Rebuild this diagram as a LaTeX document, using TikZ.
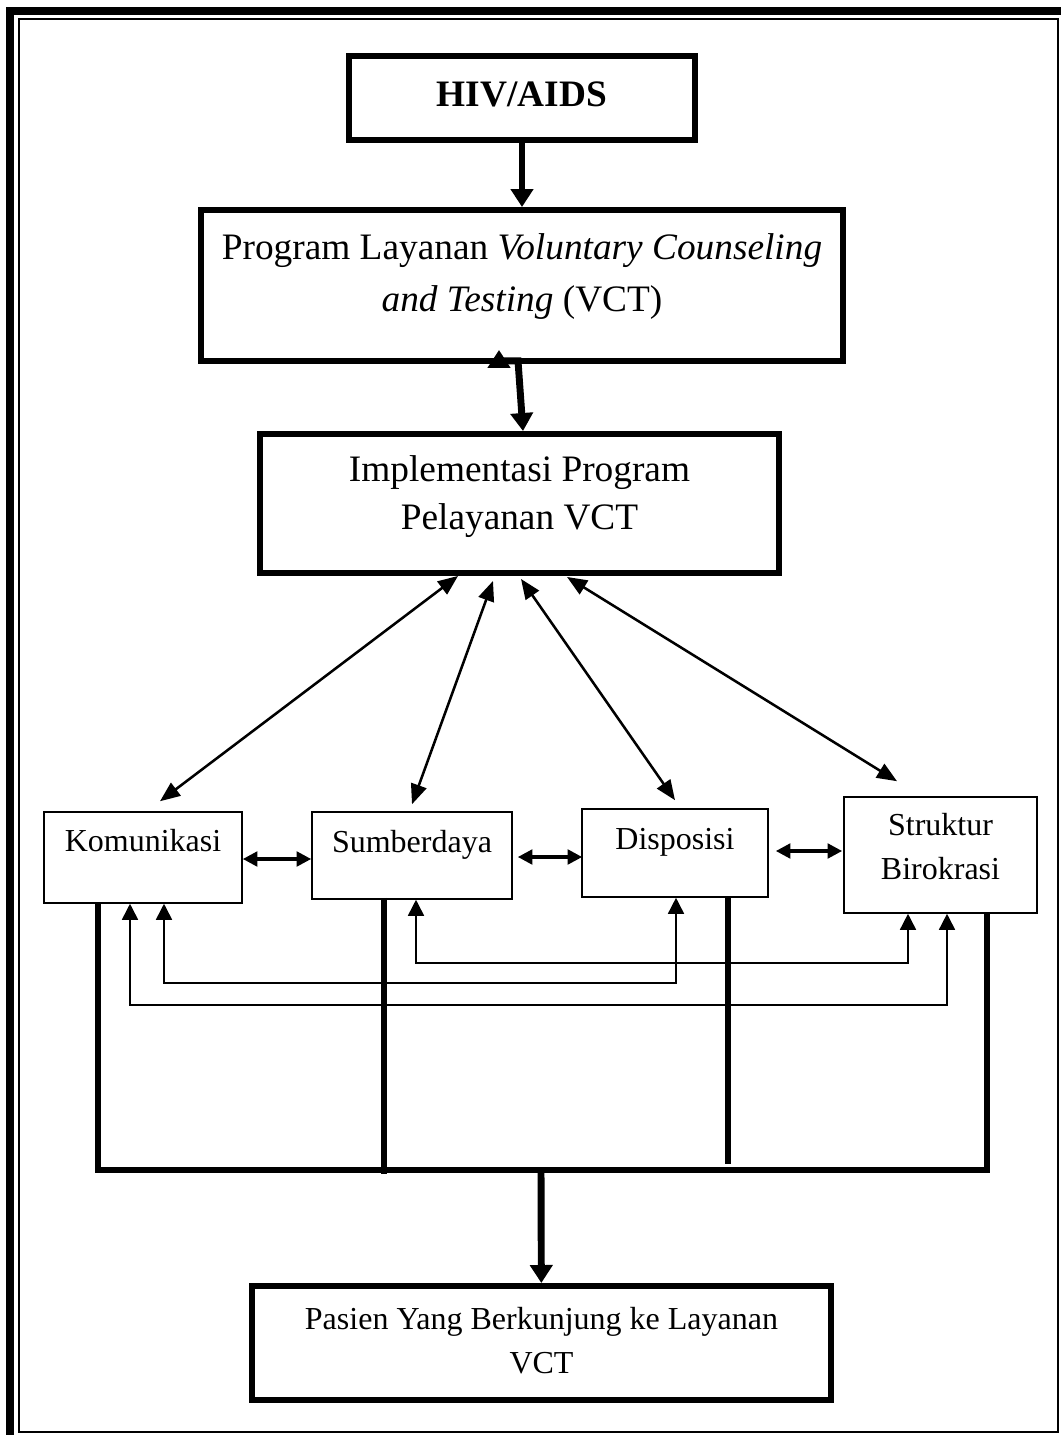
\documentclass[tikz,border=0pt]{standalone}
\usepackage{fontspec}
\setmainfont{Liberation Serif}
\usetikzlibrary{arrows.meta,calc}

\begin{document}
\begin{tikzpicture}[x=0.375pt, y=-0.375pt,
    bigbox/.style={draw, line width=2.25pt, inner sep=0pt},
    smallbox/.style={draw, line width=0.6pt, inner sep=0pt},
    bigtext/.style={font=\fontsize{14pt}{19.5pt}\selectfont, align=center, inner sep=0pt},
    smalltext/.style={font=\fontsize{12pt}{16.5pt}\selectfont, align=center, inner sep=0pt},
    mainarrow/.style={->, >={Triangle[length=6.75pt, width=8.25pt]}, line width=2.6pt},
    diagarrow/.style={<->, >={Triangle[length=7.5pt, width=6pt]}, line width=0.95pt},
    sidearrow/.style={<->, >={Triangle[length=5.5pt, width=5.5pt]}, line width=1.25pt},
    fbline/.style={<->, >={Triangle[length=6pt, width=6pt]}, line width=0.6pt},
    busline/.style={line width=2.25pt, line join=miter}]
    \useasboundingbox (0,0) rectangle (1061,1435);
    % page frame
    \draw[line width=3pt] (10,1435) -- (10,11) -- (1061,11);
    \draw[line width=1pt] (19,19) rectangle (1058,1432);

    % top column
    \node[bigbox, minimum width=129.75pt, minimum height=31.5pt] (hiv) at (522,98) {};
    \node[bigtext, font=\fontsize{14pt}{19.5pt}\selectfont\bfseries] (hivtext) at (522,94) {HIV/AIDS};
    \node[bigbox, minimum width=240.75pt, minimum height=56.6pt] (vct) at (522,285.5) {};
    \node[bigtext] (vcttext) at (522,277) {Program Layanan \textit{Voluntary Counseling}\\ \textit{and Testing} (VCT)};
    \node[bigbox, minimum width=194.6pt, minimum height=52.1pt] (impl) at (519.5,503.5) {};
    \node[bigtext, font=\fontsize{14pt}{18pt}\selectfont] (impltext) at (519.5,497) {Implementasi Program\\ Pelayanan VCT};

    % factors
    \node[smallbox, minimum width=74.25pt, minimum height=34.1pt] (kom) at (143,857.5) {};
    \node[smalltext] (komtext) at (143,841) {Komunikasi};
    \node[smallbox, minimum width=75pt, minimum height=32.6pt] (sum) at (412,855.5) {};
    \node[smalltext] (sumtext) at (412,845) {Sumberdaya};
    \node[smallbox, minimum width=69.75pt, minimum height=33pt] (dis) at (675,853) {};
    \node[smalltext] (distext) at (675,842) {Disposisi};
    \node[smallbox, minimum width=72.4pt, minimum height=43.5pt] (str) at (940.5,855) {};
    \node[smalltext] (strtext) at (940.5,847) {Struktur\\ Birokrasi};

    \node[bigbox, minimum width=217.1pt, minimum height=42.75pt] (pas) at (541.5,1343) {};
    \node[smalltext] (pastext) at (541.5,1341) {Pasien Yang Berkunjung ke Layanan\\ VCT};

    \draw[mainarrow] (hiv) -- (vct);
    \draw[mainarrow, <->] ($(vct.south)+(-23,-14)$) -- ($(vct.south)+(-23,-3)$) -- ($(vct.south)+(-4,-3)$) -- ($(impl.north)+(3.5,0)$);

    \draw[diagarrow] ($(impl.south)+(-61.5,0)$) -- ($(kom.north)+(17,-10)$);
    \draw[diagarrow] ($(impl.south)+(-26.5,5)$) -- ($(sum.north)+(0,-7)$);
    \draw[diagarrow] ($(impl.south)+(1.5,3)$) -- ($(dis.north)+(0,-8)$);
    \draw[diagarrow] ($(impl.south)+(47.5,1)$) -- ($(str.north)+(-43.5,-15)$);

    \draw[sidearrow] ($(kom.east)+(0,1.5)$) -- ($(sum.west)+(0,3.5)$);
    \draw[sidearrow] ($(sum.east)+(5,1.5)$) -- ($(dis.west)+(1,4)$);
    \draw[sidearrow] ($(dis.east)+(7,-2)$) -- ($(str.west)+(-1,-4)$);

    % feedback lines
    \draw[fbline] ($(sum.south)+(4,0)$) |- ($(str.south)+(-32.5,49)$) -- ($(str.south)+(-32.5,0)$);
    \draw[fbline] ($(kom.south)+(21,0)$) |- ($(dis.south)+(1,85)$) -- ($(dis.south)+(1,0)$);
    \draw[fbline] ($(kom.south)+(-13,0)$) |- ($(str.south)+(6.5,91)$) -- ($(str.south)+(6.5,0)$);

    % bus to the patient box
    \coordinate (busL) at (98,1170);
    \coordinate (busR) at (987,1170);
    \coordinate (busM) at (541,1170);
    \draw[busline] ($(kom.south)+(-45,0)$) -- (busL) -- (busR) -- ($(str.south)+(46.5,0)$);
    \draw[busline] ($(sum.south)+(-28,-2)$) -- ($(busL)+(286,4)$);
    \draw[busline] ($(dis.south)+(53,0)$) -- ($(busL)+(630,-6)$);
    \draw[mainarrow] (busM) -- (pas);
\end{tikzpicture}
\end{document}
